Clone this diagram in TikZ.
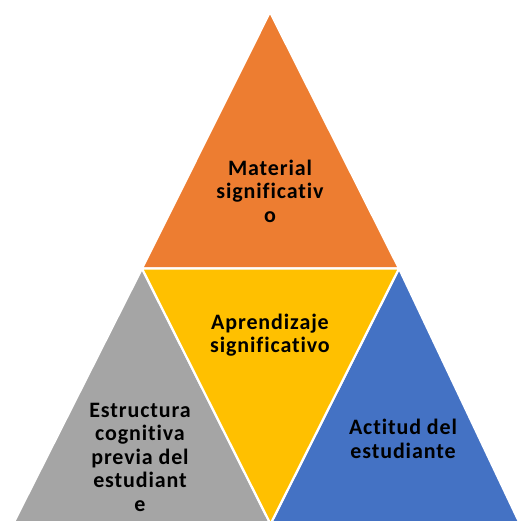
\documentclass[tikz,border=0pt]{standalone}
\usepackage{fontspec}
\setmainfont{Carlito}[LetterSpace=4,Ligatures=NoCommon]
\definecolor{orng}{HTML}{ED7D31}
\definecolor{yell}{HTML}{FFC000}
\definecolor{gry}{HTML}{A5A5A5}
\definecolor{blu}{HTML}{4472C4}
\begin{document}
\begin{tikzpicture}[x=1pt,y=1pt,
  tri/.style={draw=white,line width=2.2pt,line join=miter},
  lbl/.style={align=center,font=\fontsize{22}{23.5}\selectfont\bfseries,text=black,inner sep=0pt}]
\useasboundingbox (0,0) rectangle (518,521);
\clip (0,0) rectangle (518,521);
\coordinate (A) at (270,509);
\coordinate (L) at (142,252.5);
\coordinate (R) at (399,252.5);
\coordinate (GL) at (13,-3);
\coordinate (M) at (270.5,-3);
\coordinate (BR) at (520,-3);
\fill[orng,tri] (A) -- (L) -- (R) -- cycle;
\fill[gry,tri] (L) -- (GL) -- (M) -- cycle;
\fill[blu,tri] (R) -- (M) -- (BR) -- cycle;
\fill[yell,tri] (L) -- (R) -- (M) -- cycle;
\node[lbl] (mat) at (270,330) {Material\\significativ\\o};
\node[lbl] (apr) at (270,186) {Aprendizaje\\significativo};
\node[lbl] (est) at (140,64) {Estructura\\cognitiva\\previa del\\estudiant\\e};
\node[lbl] (act) at (403,82) {Actitud del\\estudiante};
\end{tikzpicture}
\end{document}
